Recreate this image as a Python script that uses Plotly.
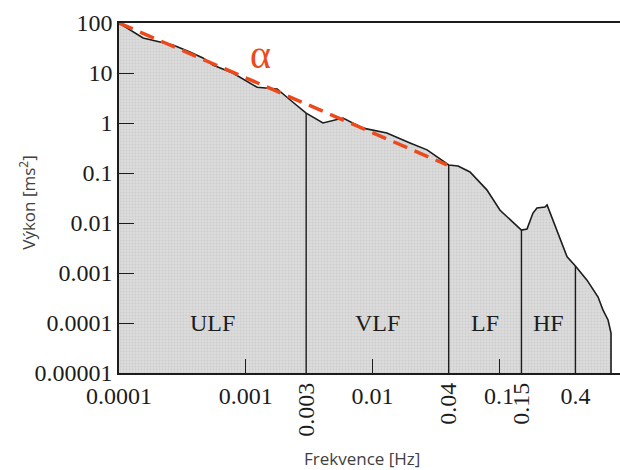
import numpy as np
import plotly.graph_objects as go

# Power spectrum of heart-rate variability (log-log)
FREQ = [0.0001, 0.000129, 0.000155, 0.000211, 0.000267, 0.000363, 0.00046, 0.00055,
        0.00079, 0.00123, 0.00177, 0.00236, 0.003, 0.00407, 0.00586, 0.00843,
        0.013, 0.0198, 0.027, 0.04, 0.0474, 0.0589, 0.080, 0.1017, 0.129, 0.15,
        0.166, 0.185, 0.199, 0.230, 0.239, 0.262, 0.303, 0.344, 0.4, 0.494,
        0.604, 0.661, 0.724, 0.764, 0.764]
POWER = [100, 66, 50, 41.7, 36.3, 26.3, 20, 14.5,
         10, 5.2, 4.8, 2.6, 1.58, 1.0, 1.26, 0.79,
         0.63, 0.40, 0.29, 0.145, 0.138, 0.105, 0.046, 0.018, 0.010, 0.0072,
         0.0076, 0.0158, 0.020, 0.0209, 0.0229, 0.0126, 0.0046, 0.0021, 0.00138, 0.00072,
         0.00033, 0.00018, 0.000115, 0.000063, 0.00001]

BAND_START = 0.0001
BAND_EDGES = [0.003, 0.04, 0.15, 0.4]
BAND_NAMES = ["ULF", "VLF", "LF", "HF"]

X_TICKS = [0.0001, 0.001, 0.01, 0.1, 0.4]
X_TICK_TEXT = ["0.0001", "0.001", "0.01", "0.1", "0.4"]
EDGE_TICK_TEXT = ["0.003", "0.04", "0.15"]
Y_TICKS = [100, 10, 1, 0.1, 0.01, 0.001, 0.0001, 0.00001]
Y_TICK_TEXT = ["100", "10", "1", "0.1", "0.01", "0.001", "0.0001", "0.00001"]

# slope (alpha) reference line
SLOPE_X = [0.0001, 0.0388]
SLOPE_Y = [100, 0.145]

Y_MIN, Y_MAX = 0.00001, 100
X_RANGE = [-4, -0.046]

SERIF = "Liberation Serif"
SANS = "Open Sans"
INK = "#1c1c1c"

fig = go.Figure()

# shaded, lightly stippled area under the spectrum
fig.add_trace(go.Scatter(
    x=[FREQ[0]] + FREQ, y=[Y_MIN] + POWER,
    mode="lines", fill="toself", fillcolor="#d8d8d8",
    fillpattern=dict(shape=".", size=3, solidity=0.35,
                     fgcolor="#bdbdbd", bgcolor="#dcdcdc"),
    line=dict(width=0), hoverinfo="skip", showlegend=False))

# spectrum outline
fig.add_trace(go.Scatter(
    x=FREQ, y=POWER, mode="lines",
    line=dict(color=INK, width=1.6), showlegend=False))

# band boundaries, each rising from the floor to the spectrum
bx, by = [], []
for e in BAND_EDGES:
    top = POWER[FREQ.index(e)]
    bx += [e, e, None]
    by += [Y_MIN, top, None]
fig.add_trace(go.Scatter(
    x=bx, y=by, mode="lines", xaxis="x2",
    line=dict(color=INK, width=1.4), showlegend=False))

# slope line
fig.add_trace(go.Scatter(
    x=SLOPE_X, y=SLOPE_Y, mode="lines",
    line=dict(color="#ec4a1c", width=3.5, dash="15px,8px"), showlegend=False))

# band names at the geometric centre of each band
lows = [BAND_START] + BAND_EDGES[:-1]
for name, lo, hi in zip(BAND_NAMES, lows, BAND_EDGES):
    fig.add_annotation(
        x=0.5 * (np.log10(lo) + np.log10(hi)), y=-4, xref="x", yref="y",
        text=name, showarrow=False, xanchor="center", yanchor="middle",
        font=dict(family=SERIF, size=24, color=INK))

fig.add_annotation(
    x=np.log10(0.0013), y=np.log10(23), xref="x", yref="y",
    text="α", showarrow=False, xanchor="center", yanchor="middle",
    font=dict(family=SERIF, size=40, color="#ec4a1c"))

fig.add_annotation(
    x=0.485, y=-0.245, xref="paper", yref="paper",
    text="Frekvence [Hz]", showarrow=False, xanchor="center", yanchor="middle",
    font=dict(family=SANS, size=17, color="#404040"))
fig.add_annotation(
    x=-0.182, y=0.486, xref="paper", yref="paper", textangle=-90,
    text="Výkon [ms<sup>2</sup>]", showarrow=False, xanchor="center", yanchor="middle",
    font=dict(family=SANS, size=17, color="#404040"))

tick_font = dict(family=SERIF, size=24, color=INK)

fig.update_layout(
    width=620, height=470,
    margin=dict(l=119, r=0, t=23, b=97),
    paper_bgcolor="white", plot_bgcolor="white",
    xaxis=dict(
        type="log", range=X_RANGE, showgrid=False, zeroline=False,
        showline=True, linecolor=INK, linewidth=1.6, mirror=True,
        ticks="inside", ticklen=14, tickwidth=1.4, tickcolor=INK,
        tickvals=X_TICKS, ticktext=X_TICK_TEXT, tickangle=0,
        tickfont=tick_font),
    xaxis2=dict(
        type="log", range=X_RANGE, overlaying="x", side="bottom",
        showgrid=False, zeroline=False, showline=False, ticks="",
        tickvals=BAND_EDGES[:-1], ticktext=EDGE_TICK_TEXT, tickangle=-90,
        ticklabelstandoff=4, tickfont=tick_font),
    yaxis=dict(
        type="log", range=[np.log10(Y_MIN), np.log10(Y_MAX)],
        showgrid=False, zeroline=False,
        showline=True, linecolor=INK, linewidth=1.6,
        ticks="inside", ticklen=15, tickwidth=1.4, tickcolor=INK,
        tickvals=Y_TICKS, ticktext=Y_TICK_TEXT, tickfont=tick_font),
)

fig.write_html("out.html")
